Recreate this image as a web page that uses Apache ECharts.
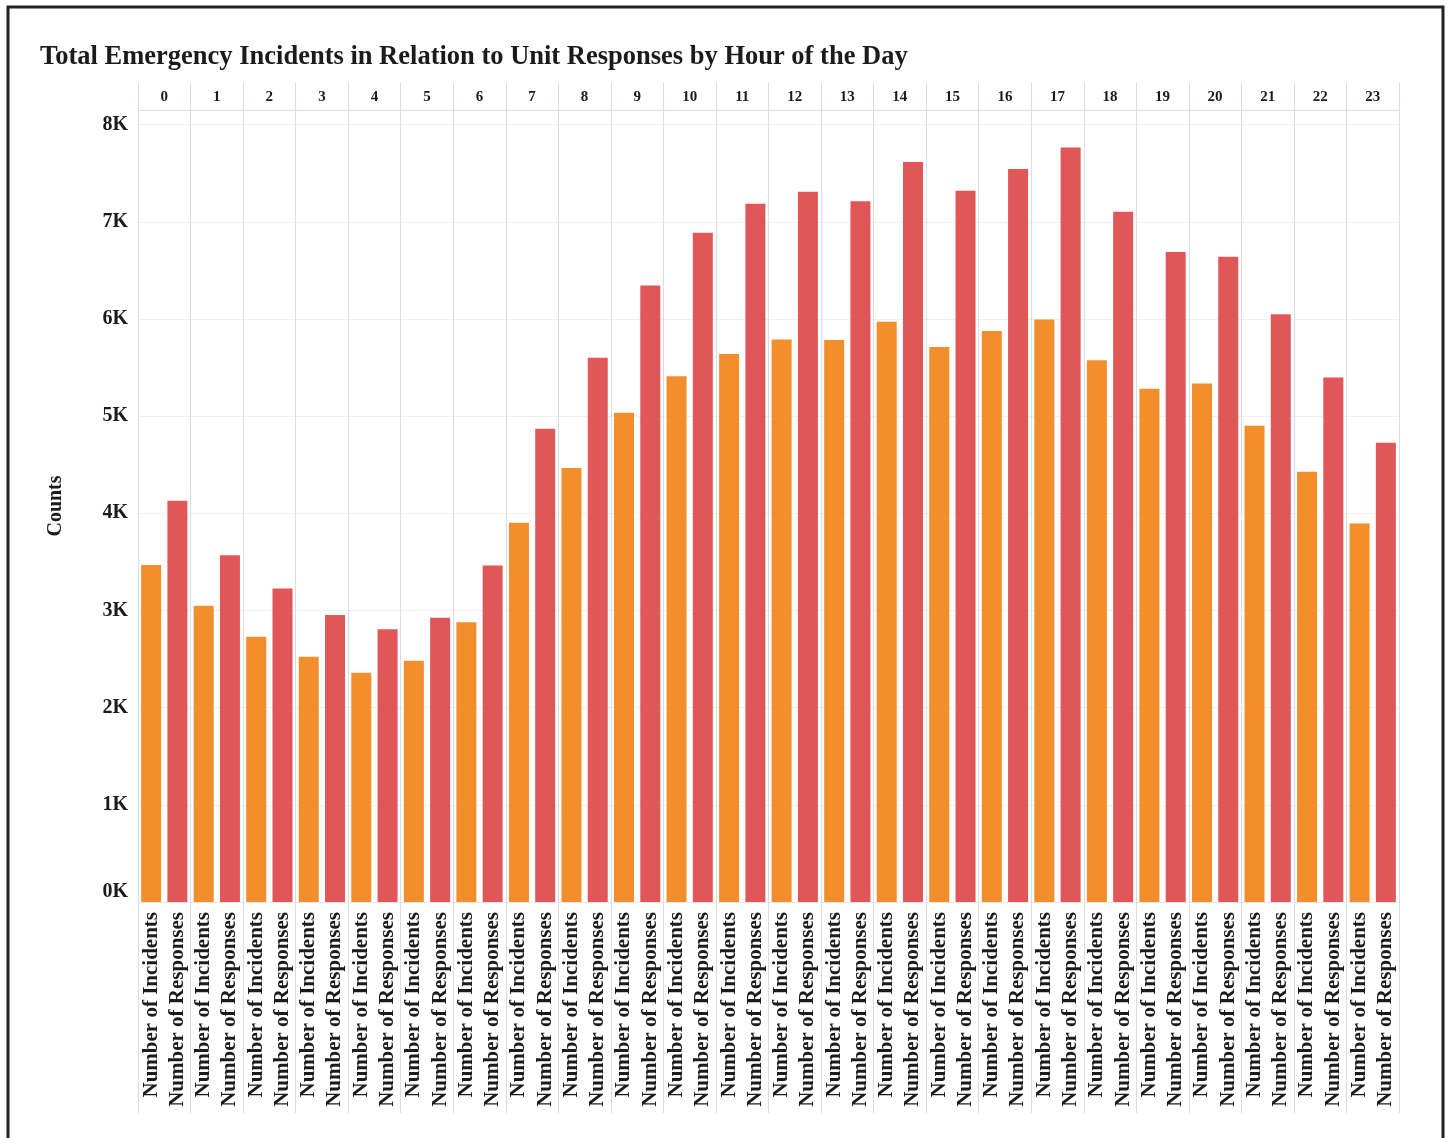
<!DOCTYPE html>
<html>
<head>
<meta charset="utf-8">
<script src="https://cdn.jsdelivr.net/npm/echarts@6/dist/echarts.min.js"></script>
<style>
html,body{margin:0;padding:0;background:#fff;}
#chart{width:1450px;height:1138px;}
</style>
</head>
<body>
<div id="chart"></div>
<script>
const hours = ['0','1','2','3','4','5','6','7','8','9','10','11','12','13','14','15','16','17','18','19','20','21','22','23'];
const measures = ['Number of Incidents', 'Number of Responses'];
const incidents = [3467, 3048, 2729, 2524, 2359, 2483, 2880, 3902, 4465, 5034, 5411, 5638, 5789, 5782, 5970, 5712, 5875, 5995, 5576, 5281, 5336, 4900, 4427, 3896];
const responses = [4128, 3567, 3227, 2953, 2806, 2925, 3464, 4869, 5600, 6344, 6886, 7184, 7308, 7212, 7616, 7318, 7544, 7764, 7102, 6690, 6639, 6049, 5398, 4725];
const titleText = 'Total Emergency Incidents in Relation to Unit Responses by Hour of the Day';
const yName = 'Counts';

const SERIF = '"Liberation Serif", "DejaVu Serif", serif';
const categories = [];
const incData = [];
const resData = [];
hours.forEach((h, i) => {
  categories.push(h + '_' + measures[0]);
  categories.push(h + '_' + measures[1]);
  incData.push(incidents[i], null);
  resData.push(null, responses[i]);
});

const chart = echarts.init(document.getElementById('chart'), null, {renderer: 'canvas'});
const lineCol = '#d6dde4';
chart.setOption({
  animation: false,
  backgroundColor: '#fff',
  title: {
    text: titleText,
    left: 35, top: 39,
    textStyle: {fontFamily: SERIF, fontWeight: 'bold', fontSize: 26.5, color: '#1b1b1b'}
  },
  graphic: [{
    type: 'rect', silent: true,
    shape: {x: 8, y: 7, width: 1435, height: 1150},
    style: {fill: 'none', stroke: '#222', lineWidth: 3}
  }],
  grid: {left: 138, right: 51, top: 110, bottom: 236, containLabel: false},
  xAxis: [{
    type: 'category', data: categories, position: 'bottom',
    axisLine: {show: true, lineStyle: {color: '#e8e8e8'}},
    axisTick: {show: false},
    splitLine: {show: false},
    axisLabel: {
      interval: 0, rotate: 90, margin: 10,
      fontFamily: SERIF, fontWeight: 'bold', fontSize: 21, color: '#1b1b1b',
      formatter: v => v.split('_')[1]
    }
  }, {
    type: 'category', data: hours, position: 'top',
    axisLine: {show: true, lineStyle: {color: lineCol}},
    axisTick: {show: true, length: 27, lineStyle: {color: lineCol}},
    splitLine: {show: true, lineStyle: {color: lineCol}},
    axisLabel: {interval: 0, margin: 5, fontFamily: SERIF, fontWeight: 'bold', fontSize: 15, color: '#1b1b1b'}
  }, {
    type: 'category', data: hours, position: 'bottom',
    axisLine: {show: false},
    axisTick: {show: true, length: 211, lineStyle: {color: lineCol}},
    splitLine: {show: false},
    axisLabel: {show: false}
  }],
  yAxis: {
    type: 'value', min: 0, max: 8150, interval: 1000,
    name: yName, nameLocation: 'middle', nameGap: 72, nameRotate: 90,
    nameTextStyle: {fontFamily: SERIF, fontWeight: 'bold', fontSize: 20, color: '#1b1b1b'},
    axisLine: {show: false}, axisTick: {show: false},
    splitLine: {show: true, lineStyle: {color: '#f1f1f1'}},
    axisLabel: {
      margin: 10, showMaxLabel: false,
      fontFamily: SERIF, fontWeight: 'bold', fontSize: 20, color: '#1b1b1b',
      formatter: v => (v % 1000 !== 0 ? '' : (v === 0 ? '{z|0K}' : (v / 1000) + 'K')),
      rich: {z: {fontFamily: SERIF, fontWeight: 'bold', fontSize: 20, color: '#1b1b1b', padding: [0, 0, 20, 0]}}
    }
  },
  series: [{
    name: measures[0], type: 'bar', xAxisIndex: 0, data: incData,
    barWidth: 20, barGap: '-100%',
    itemStyle: {color: '#F28E2B'}
  }, {
    name: measures[1], type: 'bar', xAxisIndex: 0, data: resData,
    barWidth: 20, barGap: '-100%',
    itemStyle: {color: '#E15759'}
  }]
});
</script>
</body>
</html>
